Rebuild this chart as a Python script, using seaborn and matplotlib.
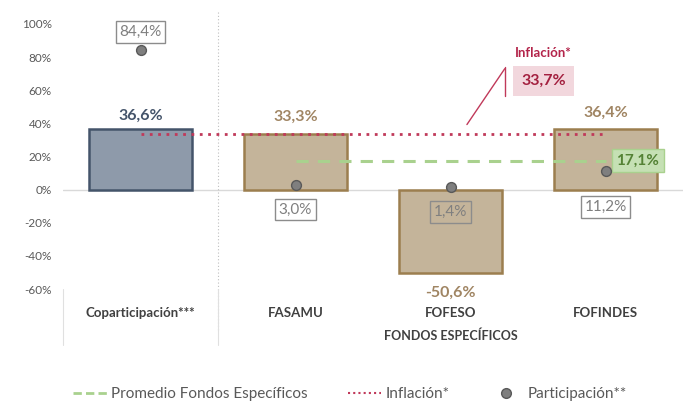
import matplotlib
matplotlib.use("Agg")
import matplotlib.pyplot as plt
import seaborn as sns
import pandas as pd
from matplotlib.lines import Line2D

categories = ["Coparticipación***", "FASAMU", "FOFESO", "FOFINDES"]
variation = [36.6, 33.3, -50.6, 36.4]
participation = [84.4, 3.0, 1.4, 11.2]
inflation = 33.7
avg_specific = 17.1
yticks = [-60, -40, -20, 0, 20, 40, 60, 80, 100]

sns.set_theme(style="white")
plt.rcParams["font.family"] = ["Lato", "DejaVu Sans"]

df = pd.DataFrame({"cat": categories, "var": variation, "part": participation})

fig = plt.figure(figsize=(6.89, 4.01), dpi=100)
ax = fig.add_axes([63/689, 1-289/401, 620/689, 265/401])

fill_cols = ["#8E9AAA", "#C4B49A", "#C4B49A", "#C4B49A"]
edge_cols = ["#44546A", "#9C7E4F", "#9C7E4F", "#9C7E4F"]
sns.barplot(data=df, x="cat", y="var", hue="cat", palette=fill_cols, legend=False,
            width=0.67, ax=ax, saturation=1)
for p, ec in zip(ax.patches, edge_cols):
    p.set_edgecolor(ec)
    p.set_linewidth(1.8)

ax.set_ylim(-60, 100)
ax.set_xlim(-0.5, 3.5)
ax.axhline(0, color="#D9D9D9", lw=1, zorder=0)

# lines
ax.plot([0, 3], [inflation, inflation], color="#C0395A", lw=2, ls=(0, (1, 2.0)), zorder=4)
ax.plot([1, 3], [avg_specific, avg_specific], color="#A9D18E", lw=2.2, ls=(0, (4, 3)), zorder=4)

sns.scatterplot(data=df, x="cat", y="part", color="#7F7F7F", edgecolor="#595959",
                s=50, linewidth=1, ax=ax, zorder=6, legend=False)

# bar labels
lab_cols = ["#44546A", "#A08563", "#A08563", "#A08563"]
lab_off = [3.5, 6.5, -7.5, 6.0]
for i, (v, c, off) in enumerate(zip(variation, lab_cols, lab_off)):
    va = "bottom" if v >= 0 else "top"
    ax.text(i, v + off, f"{v:.1f}%".replace(".", ","), ha="center", va=va,
            fontsize=11.5, fontweight="bold", color=c)

# participation labels
part_pos = [95, -12, -13.5, -10.5]
box_fill = ["white", "white", "none", "white"]
for i, (v, y, fc) in enumerate(zip(participation, part_pos, box_fill)):
    ax.text(i, y, f"{v:.1f}%".replace(".", ","), ha="center", va="center",
            fontsize=11, color="#7F7F7F",
            bbox=dict(boxstyle="square,pad=0.25", fc=fc, ec="#8C8C8C", lw=1))

# average label
ax.text(3.07, avg_specific + 0.5, f"{avg_specific:.1f}%".replace(".", ","), ha="left", va="center",
        fontsize=11, fontweight="bold", color="#548235",
        bbox=dict(boxstyle="square,pad=0.3", fc="#C5E0B4", ec="#A9D18E", lw=1))

# inflation annotation
ax.text(2.6, 65.8, f"{inflation:.1f}%".replace(".", ","), ha="center", va="center",
        fontsize=11.5, fontweight="bold", color="#A3203F",
        bbox=dict(boxstyle="square,pad=0.5", fc="#F2D7DD", ec="none"))
ax.text(2.6, 82.7, "Inflación*", ha="center", va="center", fontsize=9.5,
        fontweight="bold", color="#B3244A")
ax.plot([2.106, 2.35], [39.3, 73], color="#C0395A", lw=1)
ax.plot([2.35, 2.35], [56.8, 74.3], color="#C0395A", lw=1)

# axes style
for s in ax.spines.values():
    s.set_visible(False)
ax.set_yticks(yticks)
ax.set_yticklabels([f"{t}%" for t in yticks], color="#595959", fontsize=8.5)
ax.tick_params(axis="y", length=0, pad=8)
ax.tick_params(axis="x", length=0, pad=13, labelsize=9.5, labelcolor="#404040")
for t in ax.get_xticklabels():
    t.set_fontweight("bold")
ax.set_xlabel("")
ax.set_ylabel("")

# separators
ax.plot([0.5, 0.5], [107, -85], color="#BFBFBF", lw=0.8, ls=(0, (1, 2)), clip_on=False)
ax.plot([-0.5, -0.5], [-60, -94], color="#E0E0E0", lw=0.8, clip_on=False)
ax.plot([0.5, 0.5], [-60, -94], color="#E0E0E0", lw=0.8, clip_on=False)
ax.text(2, -88, "FONDOS ESPECÍFICOS", ha="center", va="center", fontsize=9,
        fontweight="bold", color="#404040")

handles = [
    Line2D([], [], color="#A9D18E", lw=2, ls=(0, (3, 1.5))),
    Line2D([], [], color="#C0395A", lw=1.5, ls=(0, (1, 1.5))),
    Line2D([], [], color="#7F7F7F", marker="o", ls="none", markersize=7,
           markeredgecolor="#595959"),
]
fig.legend(handles, ["Promedio Fondos Específicos", "Inflación*", "Participación**"],
           loc="center", bbox_to_anchor=(350/689, 1-394/401), ncol=3, frameon=False,
           fontsize=11, handlelength=2.2, handletextpad=0.3, columnspacing=2.6,
           labelcolor="#595959")

fig.savefig("out.png", dpi=100)
